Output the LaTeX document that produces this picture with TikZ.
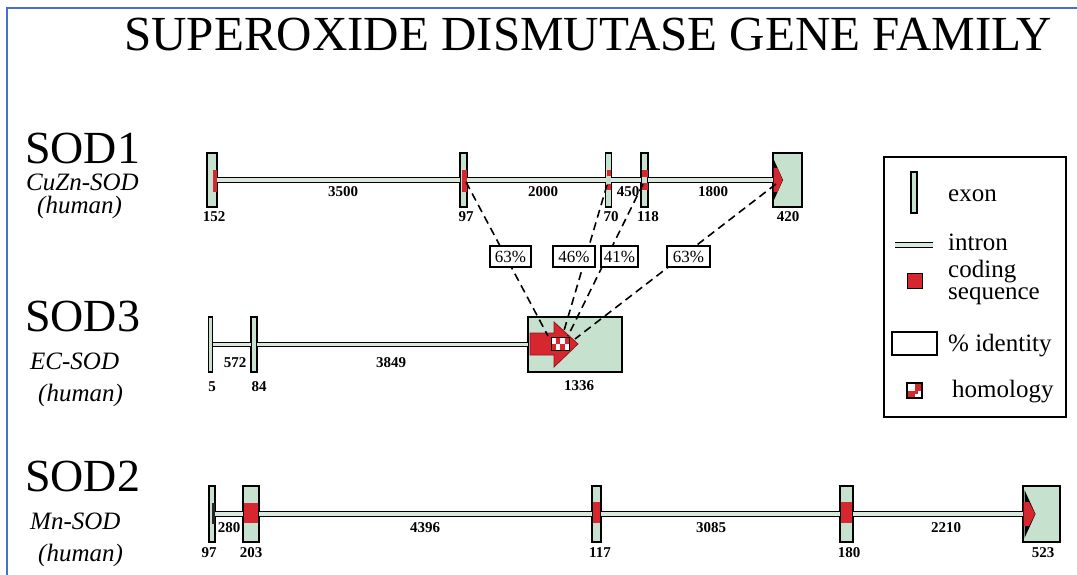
\documentclass[tikz,border=0pt]{standalone}
\usepackage{fontspec}
\setmainfont{Liberation Serif}
\definecolor{exg}{RGB}{198,225,205}
\definecolor{intg}{RGB}{215,232,220}
\definecolor{cod}{RGB}{214,38,46}
\definecolor{codedge}{RGB}{150,20,30}
\definecolor{frameblue}{RGB}{72,112,200}
\tikzset{
 exonbox/.style={draw=black, line width=1.1pt, fill=exg, inner sep=0pt, outer sep=0pt},
 intron/.style={line width=1.1pt, double=intg, double distance=3.2pt},
 num/.style={font=\fontsize{15}{15}\selectfont\bfseries, inner sep=0pt},
 pctbox/.style={draw, line width=1.1pt, fill=white, minimum height=21pt, inner sep=0pt, font=\fontsize{17}{17}\selectfont},
 simdash/.style={dash pattern=on 8pt off 5pt, line width=1.6pt},
 genename/.style={font=\fontsize{46}{46}\selectfont, anchor=base west, inner sep=0pt},
 genesub/.style={font=\fontsize{25}{25}\selectfont\itshape, anchor=base west, inner sep=0pt},
 legtext/.style={font=\fontsize{25}{25}\selectfont, anchor=base west, inner sep=0pt},
}
\begin{document}
\begin{tikzpicture}[x=1pt,y=-1pt]
\useasboundingbox (0,0) rectangle (1077,575);
\draw[frameblue, line width=2.5pt] (7,576) -- (7,8) -- (1078,8);

% title
\node[font=\fontsize{49}{49}\selectfont, anchor=base west, inner sep=0pt] (title) at (124,51) {SUPEROXIDE DISMUTASE GENE FAMILY};

% gene names
\node[genename] (n1) at (25,164) {SOD1};
\node[genesub] (n1a) at (26,191) {CuZn-SOD};
\node[genesub] (n1b) at (37,214) {(human)};
\node[genename] (n3) at (25,331) {SOD3};
\node[genesub] (n3a) at (30,369) {EC-SOD};
\node[genesub] (n3b) at (38,401) {(human)};
\node[genename] (n2) at (25,491) {SOD2};
\node[genesub] (n2a) at (30,529) {Mn-SOD};
\node[genesub] (n2b) at (38,561) {(human)};

% ---------- SOD1 ----------
\node[exonbox, minimum width=10pt, minimum height=54pt] (a1) at (212,180) {};
\node[exonbox, minimum width=7pt, minimum height=54pt] (a2) at (463.5,180) {};
\node[exonbox, minimum width=5.5pt, minimum height=54pt] (a3) at (608.5,180) {};
\node[exonbox, minimum width=7pt, minimum height=54pt] (a4) at (644.5,180) {};
\node[exonbox, minimum width=29pt, minimum height=54pt] (a5) at (787.5,180) {};
\draw[intron] (a1.east) -- (a2.west);
\draw[intron] (a2.east) -- (a3.west);
\draw[intron] (a3.east) -- (a4.west);
\draw[intron] (a4.east) -- (a5.west);
\fill[cod] (213,170) rectangle (216.5,192);
\fill[cod] (461.5,170) rectangle (467,192);
\fill[cod] (606.5,170) rectangle (610.5,176.5);
\fill[cod] (606.5,184) rectangle (610.5,190);
\fill[cod] (641.5,170) rectangle (647.5,177);
\fill[cod] (641.5,183.5) rectangle (647.5,190);
\fill[black] (774,160) -- (783,180) -- (774,200) -- cycle;
\fill[cod] (773.5,168) -- (777.5,168) -- (782.5,180) -- (777.5,192) -- (773.5,192) -- cycle;
\node[num] (l152) at (214,217) {152};
\node[num] (l3500) at (343,192) {3500};
\node[num] (l97a) at (466,217) {97};
\node[num] (l2000) at (543,192) {2000};
\node[num] (l70) at (611,217) {70};
\node[num] (l450) at (628,192) {450};
\node[num] (l118) at (648,217) {118};
\node[num] (l1800) at (713,192) {1800};
\node[num] (l420) at (788,217) {420};

% ---------- SOD3 ----------
\node[exonbox, minimum width=4.5pt, minimum height=55pt] (b1) at (210.5,344.5) {};
\node[exonbox, minimum width=6pt, minimum height=55pt] (b2) at (254,344.5) {};
\node[exonbox, minimum width=94pt, minimum height=55pt] (b3) at (575,344.5) {};
\draw[intron] (b1.east) -- (b2.west);
\draw[intron] (b2.east) -- (b3.west);
\filldraw[fill=cod, draw=codedge, line width=0.8pt] (530,333) -- (554,333) -- (554,322) -- (578,344) -- (554,367) -- (554,355) -- (530,355) -- cycle;
% homology checker
\fill[white] (551,337) rectangle (569,350);
\foreach \i in {0,1,2,3}{
  \foreach \j in {0,1}{
    \pgfmathtruncatemacro{\chk}{mod(\i+\j,2)}
    \ifnum\chk=1 \fill[cod] (551+4.5*\i,337+6.5*\j) rectangle (555.5+4.5*\i,343.5+6.5*\j);\fi
  }
}
\draw[line width=1pt] (551,337) rectangle (569,350);
\node[num] (l572) at (235,363) {572};
\node[num] (l3849) at (391,363) {3849};
\node[num] (l5) at (212,387) {5};
\node[num] (l84) at (259,387) {84};
\node[num] (l1336) at (579,386) {1336};

% ---------- similarity lines ----------
\coordinate (s1) at (466,182);
\coordinate (s2) at (607,185);
\coordinate (s3) at (643,184);
\coordinate (s4) at (776,184);
\coordinate (t1) at (548,336);
\coordinate (t2) at (563,334);
\coordinate (t3) at (568,336);
\coordinate (t4) at (575,339);
\draw[simdash] (s1) -- (t1);
\draw[simdash] (s2) -- (t2);
\draw[simdash] (s3) -- (t3);
\draw[simdash] (s4) -- (t4);
\node[pctbox, minimum width=41pt] (p1) at (510.5,256.5) {63\%};
\node[pctbox, minimum width=42pt] (p2) at (574,256.5) {46\%};
\node[pctbox, minimum width=37pt] (p3) at (619.5,256.5) {41\%};
\node[pctbox, minimum width=43pt] (p4) at (688.5,256.5) {63\%};

% ---------- SOD2 ----------
\node[exonbox, minimum width=6pt, minimum height=56pt] (c1) at (212,514) {};
\node[exonbox, minimum width=16pt, minimum height=56pt] (c2) at (251,514) {};
\node[exonbox, minimum width=9pt, minimum height=56pt] (c3) at (596.5,514) {};
\node[exonbox, minimum width=13pt, minimum height=56pt] (c4) at (846.5,514) {};
\node[exonbox, minimum width=37pt, minimum height=56pt] (c5) at (1041.5,514) {};
\draw[intron] (c1.east) -- (c2.west);
\draw[intron] (c2.east) -- (c3.west);
\draw[intron] (c3.east) -- (c4.west);
\draw[intron] (c4.east) -- (c5.west);
\fill[black!85] (212.3,503) rectangle (214.5,524);
\fill[cod] (243.8,503) rectangle (258.2,523);
\fill[cod] (592.8,502) rectangle (600.2,523);
\fill[cod] (840.8,502) rectangle (852.2,523);
\fill[black] (1024.5,490) -- (1035.5,514) -- (1024.5,538) -- cycle;
\fill[cod] (1023.5,502) -- (1029,502) -- (1035,514) -- (1029,526) -- (1023.5,526) -- cycle;
\node[num] (l97b) at (209,553) {97};
\node[num] (l280) at (229,528) {280};
\node[num] (l203) at (251,553) {203};
\node[num] (l4396) at (425,528) {4396};
\node[num] (l117) at (600,553) {117};
\node[num] (l3085) at (711,528) {3085};
\node[num] (l180) at (849,553) {180};
\node[num] (l2210) at (946,528) {2210};
\node[num] (l523) at (1043,553) {523};

% ---------- legend ----------
\node[draw, line width=1.2pt, minimum width=182pt, minimum height=260pt, inner sep=0pt] (leg) at (975,287) {};
\node[exonbox, minimum width=6pt, minimum height=41pt] (lx) at (914,192.5) {};
\coordinate (li1) at (895,245);
\coordinate (li2) at (933,245);
\draw[intron] (li1) -- (li2);
\filldraw[fill=cod, draw=black, line width=0.9pt] (907,273) rectangle (922,288);
\draw[line width=1.1pt, fill=white] (892,332) rectangle (937,355);
\fill[white] (907,383) rectangle (922,398);
\fill[cod] (914.5,383) rectangle (922,390.5);
\fill[cod] (907,390.5) rectangle (914.5,398);
\fill[cod] (914.5,390.5) rectangle (918,394);
\draw[line width=1.2pt] (907,383) rectangle (922,398);
\node[legtext] (tx1) at (948,202) {exon};
\node[legtext] (tx2) at (948,250) {intron};
\node[legtext] (tx3) at (948,277) {coding};
\node[legtext] (tx4) at (948,299) {sequence};
\node[legtext] (tx5) at (948,351) {\% identity};
\node[legtext] (tx6) at (952,397) {homology};
\end{tikzpicture}
\end{document}
